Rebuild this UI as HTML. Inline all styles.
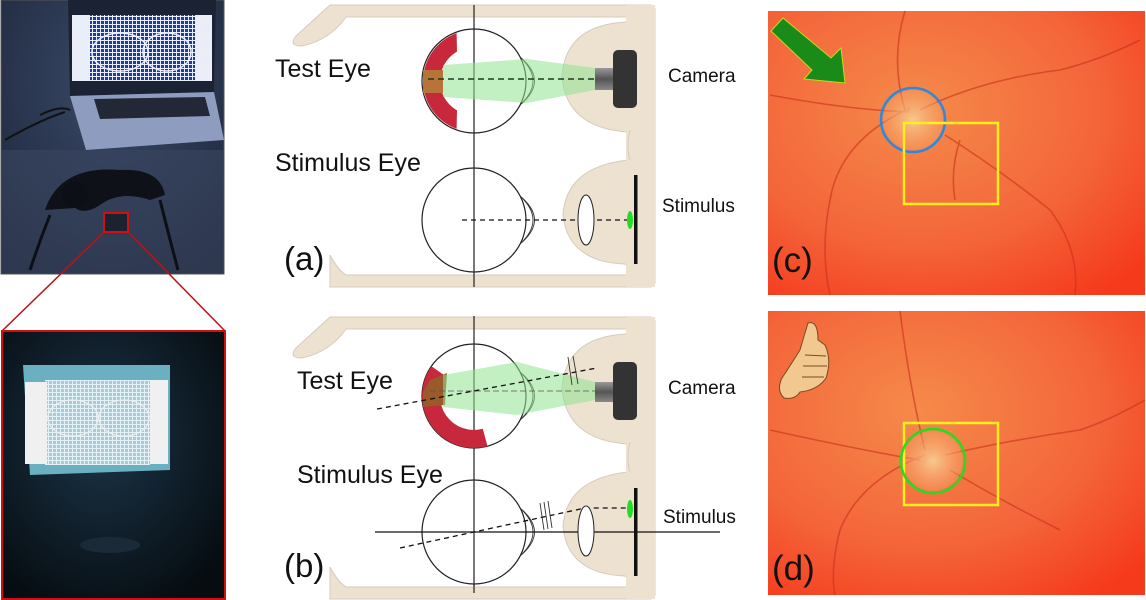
<!DOCTYPE html>
<html><head><meta charset="utf-8"><style>
html,body{margin:0;padding:0;background:#fff;width:1146px;height:600px;overflow:hidden}
svg{display:block}
text{font-family:"Liberation Sans",sans-serif;fill:#111}
</style></head><body>
<svg width="1146" height="600" viewBox="0 0 1146 600" xmlns="http://www.w3.org/2000/svg">
<defs>
<pattern id="grid" width="4" height="4" patternUnits="userSpaceOnUse">
<rect width="4" height="4" fill="#1e3c9a"/><path d="M0 0.5H4M0.5 0V4" stroke="#e8eefa" stroke-width="1"/></pattern>
<pattern id="grid2" width="4" height="4" patternUnits="userSpaceOnUse">
<rect width="4" height="4" fill="#a8cad8"/><path d="M0 0.5H4M0.5 0V4" stroke="#e4f2f6" stroke-width="1"/></pattern>
<radialGradient id="fund" cx="0.4" cy="0.35" r="0.8">
<stop offset="0" stop-color="#f58a4a"/><stop offset="0.6" stop-color="#f4653a"/><stop offset="1" stop-color="#f53a1c"/></radialGradient>
<radialGradient id="disc" cx="0.5" cy="0.5" r="0.5">
<stop offset="0" stop-color="#f7c88e"/><stop offset="1" stop-color="#f5a066" stop-opacity="0.4"/></radialGradient>
<radialGradient id="room" cx="0.5" cy="0.3" r="0.8">
<stop offset="0" stop-color="#3a4a6a"/><stop offset="1" stop-color="#1c2436"/></radialGradient>
<radialGradient id="dark" cx="0.45" cy="0.4" r="0.7">
<stop offset="0" stop-color="#1b3448"/><stop offset="1" stop-color="#060c10"/></radialGradient>
<linearGradient id="lens" x1="0" y1="0" x2="0" y2="1"><stop offset="0" stop-color="#999"/><stop offset="0.5" stop-color="#555"/><stop offset="1" stop-color="#888"/></linearGradient>
<g id="frame">
<path d="M330,5 L650,5 Q655,5 655,10 L655,282 Q655,287 650,287 L330,287 L330,255 Q338,270 346,275 L628,275 Q630,268 625,264 Q568,262 563,215 Q566,167 628,160 L628,132 Q566,128 562,76 Q566,24 628,22 Q632,17 625,17 L346,17 Q330,40 302,46 Q288,46 296,36 Z" fill="#ede1d0" stroke="#d6cbbd" stroke-width="1"/>
<rect x="626" y="5" width="29" height="282" fill="#ede1d0"/>
<path d="M630,130 Q626,146 630,160" fill="none" stroke="#d6cbbd"/>
</g>
<g id="cornea">
<path d="M520,-24 Q546,0 520,24 M520,-24 Q549,0 520,24" fill="none" stroke="#333" stroke-width="0.9"/>
</g>
</defs>

<!-- top-left photo -->
<rect x="1" y="0" width="223" height="274" fill="url(#room)" stroke="#555"/>
<rect x="1" y="150" width="223" height="124" fill="#3a4660" opacity="0.6"/>
<polygon points="68,0 216,0 214,92 70,96" fill="#1b2233"/>
<rect x="72" y="15" width="140" height="66" fill="#e9eef8"/>
<rect x="90" y="15" width="105" height="66" fill="url(#grid)"/>
<ellipse cx="120" cy="52" rx="28" ry="19" fill="none" stroke="#eef" stroke-width="1.5"/>
<ellipse cx="167" cy="52" rx="24" ry="19" fill="none" stroke="#eef" stroke-width="1.5"/>
<polygon points="70,96 214,92 224,140 86,150" fill="#8e9cc0"/>
<polygon points="94,99 205,97 210,116 100,119" fill="#222836"/>
<path d="M40,115 Q60,105 70,110 M5,140 Q40,120 65,112" stroke="#111" stroke-width="2" fill="none"/>
<path d="M45,210 Q60,165 120,170 Q160,168 165,195 L150,200 Q120,190 100,205 Q85,215 75,208 Z" fill="#0e1118"/>
<circle cx="75" cy="195" r="13" fill="#0c0f15"/>
<path d="M30,270 Q40,240 50,215 M160,200 Q170,240 178,270" stroke="#0c0f15" stroke-width="3" fill="none"/>
<rect x="104" y="213" width="24" height="19" fill="#1b2230" stroke="#d01010" stroke-width="2"/>
<line x1="104" y1="232" x2="2" y2="331" stroke="#c01010" stroke-width="1.5"/>
<line x1="128" y1="232" x2="225" y2="331" stroke="#c01010" stroke-width="1.5"/>

<!-- bottom-left photo -->
<rect x="2" y="331" width="223" height="268" fill="url(#dark)" stroke="#d01010" stroke-width="2"/>
<polygon points="23,365 170,365 170,470 30,475" fill="#6ab0c0"/>
<rect x="45" y="380" width="105" height="85" fill="url(#grid2)"/>
<rect x="25" y="382" width="22" height="82" fill="#f0f0f0"/>
<rect x="150" y="380" width="18" height="84" fill="#f0f0f0"/>
<ellipse cx="73" cy="418" rx="25" ry="18" fill="none" stroke="#eee" stroke-width="1.3"/>
<ellipse cx="124" cy="418" rx="25" ry="18" fill="none" stroke="#eee" stroke-width="1.3"/>
<ellipse cx="110" cy="545" rx="30" ry="8" fill="#1a2a38"/>

<!-- (a) diagram -->
<use href="#frame"/>
<line x1="474" y1="5" x2="474" y2="287" stroke="#222" stroke-width="1.2"/>
<circle cx="474" cy="81" r="52" fill="none" stroke="#222" stroke-width="1.2"/>
<use href="#cornea" transform="translate(0,81)"/>
<path d="M456.6,33.1 A51,51 0 0 0 456.6,128.9 L457,110.4 A34,34 0 0 1 457,51.6 Z" fill="#c8283c"/>
<rect x="423" y="70" width="20" height="23" fill="#b87438"/>
<polygon points="443,65 527,59 595,68 595,90 527,103 443,97" fill="#8fe38f" opacity="0.55"/>
<line x1="428" y1="79" x2="595" y2="79" stroke="#1a3a1a" stroke-width="1.5" stroke-dasharray="6,4"/>
<rect x="595" y="68" width="18" height="22" fill="url(#lens)"/>
<rect x="613" y="50" width="24" height="58" rx="5" fill="#333"/>
<circle cx="474" cy="220" r="52" fill="#fff" stroke="#222" stroke-width="1.2"/>
<line x1="474" y1="168" x2="474" y2="272" stroke="#222" stroke-width="1.2"/>
<use href="#cornea" transform="translate(0,220)"/>
<line x1="462" y1="220" x2="630" y2="220" stroke="#111" stroke-width="1.3" stroke-dasharray="5,4"/>
<ellipse cx="586" cy="220" rx="8" ry="25" fill="#fff" stroke="#222"/>
<rect x="634" y="175" width="3.5" height="89" fill="#111"/>
<ellipse cx="630" cy="220" rx="3" ry="9" fill="#22dd22"/>
<text x="275" y="77" font-size="25">Test Eye</text>
<text x="275" y="171" font-size="25">Stimulus Eye</text>
<text x="668" y="82" font-size="19">Camera</text>
<text x="662" y="212" font-size="19">Stimulus</text>
<text x="284" y="270" font-size="33">(a)</text>

<!-- (b) diagram -->
<g transform="translate(0,312)"><use href="#frame"/></g>
<line x1="474" y1="316" x2="474" y2="593" stroke="#222" stroke-width="1.2"/>
<circle cx="474" cy="396" r="52" fill="none" stroke="#222" stroke-width="1.2"/>
<use href="#cornea" transform="translate(0,396)"/>
<path d="M431.4,366.2 A52,52 0 0 0 487.5,446.2 L482.8,428.8 A34,34 0 0 1 446.1,376.5 Z" fill="#c8283c"/>
<polygon points="430,380 447,373 445,405 423,407 423,392" fill="#9a5a2a"/>
<polygon points="443,375 517,362 595,382 595,400 517,415 443,407" fill="#8fe38f" opacity="0.55"/>
<line x1="430" y1="391" x2="595" y2="391" stroke="#555" stroke-width="0.8" stroke-dasharray="6,3"/>
<line x1="377" y1="409" x2="597" y2="368" stroke="#111" stroke-width="1.3" stroke-dasharray="5,4"/>
<path d="M568,357 L572,385 M573,356 L578,384" stroke="#333" stroke-width="0.9"/>
<rect x="595" y="382" width="18" height="20" fill="url(#lens)"/>
<rect x="613" y="362" width="24" height="58" rx="5" fill="#333"/>
<circle cx="474" cy="532" r="52" fill="#fff" stroke="#222" stroke-width="1.2"/>
<line x1="474" y1="480" x2="474" y2="586" stroke="#222" stroke-width="1.2"/>
<use href="#cornea" transform="translate(0,532)"/>
<line x1="375" y1="532" x2="720" y2="532" stroke="#111" stroke-width="1.2"/>
<polyline points="400,548 474,532 585,508 630,508" fill="none" stroke="#111" stroke-width="1.3" stroke-dasharray="5,4"/>
<path d="M540,503 L544,530 M544,502 L548,529 M548,501 L552,528" stroke="#333" stroke-width="0.9"/>
<ellipse cx="586" cy="531" rx="8" ry="25" fill="#fff" stroke="#222"/>
<rect x="634" y="488" width="3.5" height="88" fill="#111"/>
<ellipse cx="630" cy="509" rx="3" ry="9" fill="#22dd22"/>
<text x="297" y="389" font-size="25">Test Eye</text>
<text x="297" y="483" font-size="25">Stimulus Eye</text>
<text x="668" y="394" font-size="19">Camera</text>
<text x="663" y="523" font-size="19">Stimulus</text>
<text x="284" y="577" font-size="33">(b)</text>

<!-- (c) fundus -->
<rect x="768" y="11" width="377" height="284" fill="url(#fund)"/>
<g stroke="#c8301c" stroke-width="1.6" fill="none" opacity="0.6">
<path d="M905,110 Q890,60 905,11 M910,108 Q840,140 830,200 Q820,250 830,295 M920,110 Q980,80 1060,70 Q1100,60 1140,40 M945,135 Q1000,170 1050,210 Q1080,250 1075,295 M910,112 Q850,110 770,95 M960,140 Q950,170 955,200"/>
</g>
<circle cx="913" cy="120" r="30" fill="url(#disc)"/>
<circle cx="913" cy="120" r="32" fill="none" stroke="#2a8ae0" stroke-width="2.5"/>
<rect x="904" y="123" width="94" height="81" fill="none" stroke="#ffee22" stroke-width="2.5"/>
<polygon points="783,18 771,31 812,70 804,79 845,83 841,48 831,58" fill="#1a8a18" stroke="#c8d820" stroke-width="1"/>
<text x="772" y="272" font-size="35">(c)</text>

<!-- (d) fundus -->
<rect x="768" y="311" width="377" height="284" fill="url(#fund)"/>
<g stroke="#c8301c" stroke-width="1.6" fill="none" opacity="0.6">
<path d="M925,450 Q910,390 900,311 M925,455 Q860,480 840,530 Q830,570 835,595 M945,455 Q1010,440 1080,430 Q1110,420 1145,400 M950,470 Q1000,500 1060,530 M920,460 Q860,450 770,430"/>
</g>
<circle cx="933" cy="461" r="30" fill="url(#disc)"/>
<rect x="904" y="423" width="94" height="82" fill="none" stroke="#ffee22" stroke-width="2.5"/>
<circle cx="933" cy="461" r="32" fill="none" stroke="#22dd22" stroke-width="2.5"/>
<g fill="#f0c890" stroke="#7a4a20" stroke-width="1">
<path d="M808,323 Q818,320 818,340 L825,345 Q832,360 826,378 Q818,390 800,392 Q795,400 784,398 Q776,390 782,378 Q790,366 800,350 Q804,336 808,323 Z"/>
<path d="M805,355 L826,356 M803,366 L827,366 M802,377 L824,377" fill="none"/>
</g>
<text x="772" y="580" font-size="35">(d)</text>
</svg>
</body></html>
